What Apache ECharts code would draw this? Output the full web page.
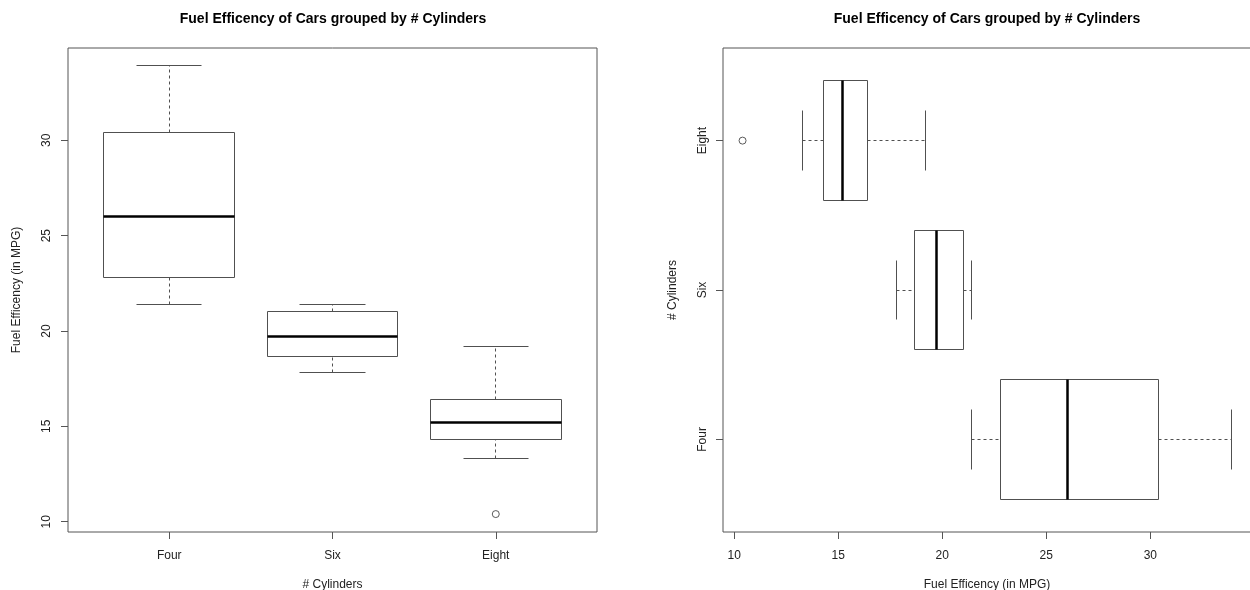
<!DOCTYPE html>
<html>
<head>
<meta charset="utf-8">
<title>Fuel Efficency of Cars grouped by # Cylinders</title>
<script src="https://cdn.jsdelivr.net/npm/echarts@6/dist/echarts.min.js"></script>
<style>
  html, body { margin: 0; padding: 0; background: #fff; }
  #chart { width: 1250px; height: 590px; }
</style>
</head>
<body>
<div id="chart"></div>
<script>
// groups (position 1, 2, 3 on the group axis)
var categories = ["Four", "Six", "Eight"];
// five-number summaries per group (mpg)
var whiskerLow = [21.4, 17.8, 13.3];
var lowerHinge = [22.8, 18.65, 14.3];
var medians = [26.0, 19.7, 15.2];
var upperHinge = [30.4, 21.0, 16.4];
var whiskerHigh = [33.9, 21.4, 19.2];
// outliers: [group position, mpg]
var outliers = [[3, 10.4]];
// tick labels
var mpgTicks = [10, 15, 20, 25, 30];
var groupTicks = [1, 2, 3];

var titleText = "Fuel Efficency of Cars grouped by # Cylinders";
var mpgName = "Fuel Efficency (in MPG)";
var groupName = "# Cylinders";

var frameColor = "#555";
var boxColor = "#505050";
var textColor = "#222";
var fontFamily = "Liberation Sans, Arial, sans-serif";

var boxData = categories.map(function (c, i) {
  return [i + 1, whiskerLow[i], lowerHinge[i], medians[i], upperHinge[i], whiskerHigh[i]];
});

function snap(v) {
  return Math.round(v - 0.5) + 0.5;
}

function boxRenderer(horizontal) {
  return function (params, api) {
    var p = api.value(0);
    var v = [api.value(1), api.value(2), api.value(3), api.value(4), api.value(5)];
    var pt = function (pos, val) {
      var c = horizontal ? api.coord([val, pos]) : api.coord([pos, val]);
      return [snap(c[0]), snap(c[1])];
    };
    var half = 0.4, cap = 0.2;
    var a = pt(p - half, v[1]), b = pt(p + half, v[3]);
    var line = function (p1, p2, style) {
      return {
        type: "line",
        shape: { x1: p1[0], y1: p1[1], x2: p2[0], y2: p2[1] },
        style: style
      };
    };
    var solid = { stroke: boxColor, lineWidth: 1 };
    var dashed = { stroke: boxColor, lineWidth: 1, lineDash: [3, 3] };
    return {
      type: "group",
      children: [
        line(pt(p, v[0]), pt(p, v[1]), dashed),
        line(pt(p, v[3]), pt(p, v[4]), dashed),
        line(pt(p - cap, v[0]), pt(p + cap, v[0]), solid),
        line(pt(p - cap, v[4]), pt(p + cap, v[4]), solid),
        {
          type: "rect",
          shape: {
            x: Math.min(a[0], b[0]),
            y: Math.min(a[1], b[1]),
            width: Math.abs(b[0] - a[0]),
            height: Math.abs(b[1] - a[1])
          },
          style: { fill: "#fff", stroke: boxColor, lineWidth: 1 }
        },
        line(pt(p - half, v[2]), pt(p + half, v[2]), { stroke: "#000", lineWidth: 2.5 })
      ]
    };
  };
}

function mpgAxis(gridIndex) {
  return {
    type: "value",
    gridIndex: gridIndex,
    min: 9.46,
    max: 34.84,
    name: mpgName,
    nameLocation: "middle",
    nameGap: gridIndex === 0 ? 45 : 47,
    nameTextStyle: { color: textColor, fontSize: 12, fontFamily: fontFamily },
    axisLine: { show: false },
    splitLine: { show: false },
    axisTick: {
      show: true,
      length: 7,
      customValues: mpgTicks,
      lineStyle: { color: frameColor }
    },
    axisLabel: {
      customValues: mpgTicks,
      rotate: gridIndex === 0 ? 90 : 0,
      margin: gridIndex === 0 ? 15 : 18,
      color: textColor,
      fontSize: 12,
      fontFamily: fontFamily
    }
  };
}

function groupAxis(gridIndex) {
  return {
    type: "value",
    gridIndex: gridIndex,
    min: 0.38,
    max: 3.62,
    name: groupName,
    nameLocation: "middle",
    nameGap: gridIndex === 0 ? 47 : 44,
    nameTextStyle: { color: textColor, fontSize: 12, fontFamily: fontFamily },
    axisLine: { show: false },
    splitLine: { show: false },
    axisTick: {
      show: true,
      length: 7,
      customValues: groupTicks,
      lineStyle: { color: frameColor }
    },
    axisLabel: {
      customValues: groupTicks,
      rotate: gridIndex === 1 ? 90 : 0,
      margin: gridIndex === 1 ? 14 : 18,
      color: textColor,
      fontSize: 12,
      fontFamily: fontFamily,
      formatter: function (val) {
        return categories[Math.round(val) - 1] || "";
      }
    }
  };
}

var chart = echarts.init(document.getElementById("chart"), null, { renderer: "canvas" });

var outlierStyle = { color: "#fff", borderColor: "#333", borderWidth: 1 };

var option = {
  backgroundColor: "#fff",
  animation: false,
  title: [
    {
      text: titleText,
      left: 333,
      top: 12,
      padding: 0,
      textAlign: "center",
      textStyle: { fontSize: 14, fontWeight: "bold", color: "#000", fontFamily: fontFamily }
    },
    {
      text: titleText,
      left: 987,
      top: 12,
      padding: 0,
      textAlign: "center",
      textStyle: { fontSize: 14, fontWeight: "bold", color: "#000", fontFamily: fontFamily }
    }
  ],
  grid: [
    { left: 68, top: 48, width: 529, height: 484, show: true, borderColor: frameColor, borderWidth: 1, backgroundColor: "transparent", outerBoundsMode: "none", containLabel: false },
    { left: 723, top: 48, width: 528, height: 484, show: true, borderColor: frameColor, borderWidth: 1, backgroundColor: "transparent", outerBoundsMode: "none", containLabel: false }
  ],
  xAxis: [groupAxis(0), mpgAxis(1)],
  yAxis: [mpgAxis(0), groupAxis(1)],
  series: [
    {
      type: "custom",
      xAxisIndex: 0,
      yAxisIndex: 0,
      renderItem: boxRenderer(false),
      encode: { x: 0, y: [1, 2, 3, 4, 5] },
      data: boxData
    },
    {
      type: "scatter",
      xAxisIndex: 0,
      yAxisIndex: 0,
      symbol: "circle",
      symbolSize: 7,
      itemStyle: outlierStyle,
      data: outliers
    },
    {
      type: "custom",
      xAxisIndex: 1,
      yAxisIndex: 1,
      renderItem: boxRenderer(true),
      encode: { x: [1, 2, 3, 4, 5], y: 0 },
      data: boxData
    },
    {
      type: "scatter",
      xAxisIndex: 1,
      yAxisIndex: 1,
      symbol: "circle",
      symbolSize: 7,
      itemStyle: outlierStyle,
      data: outliers.map(function (o) { return [o[1], o[0]]; })
    }
  ]
};

chart.setOption(option);
window.addEventListener("resize", function () {
  chart.resize();
});
</script>
</body>
</html>
